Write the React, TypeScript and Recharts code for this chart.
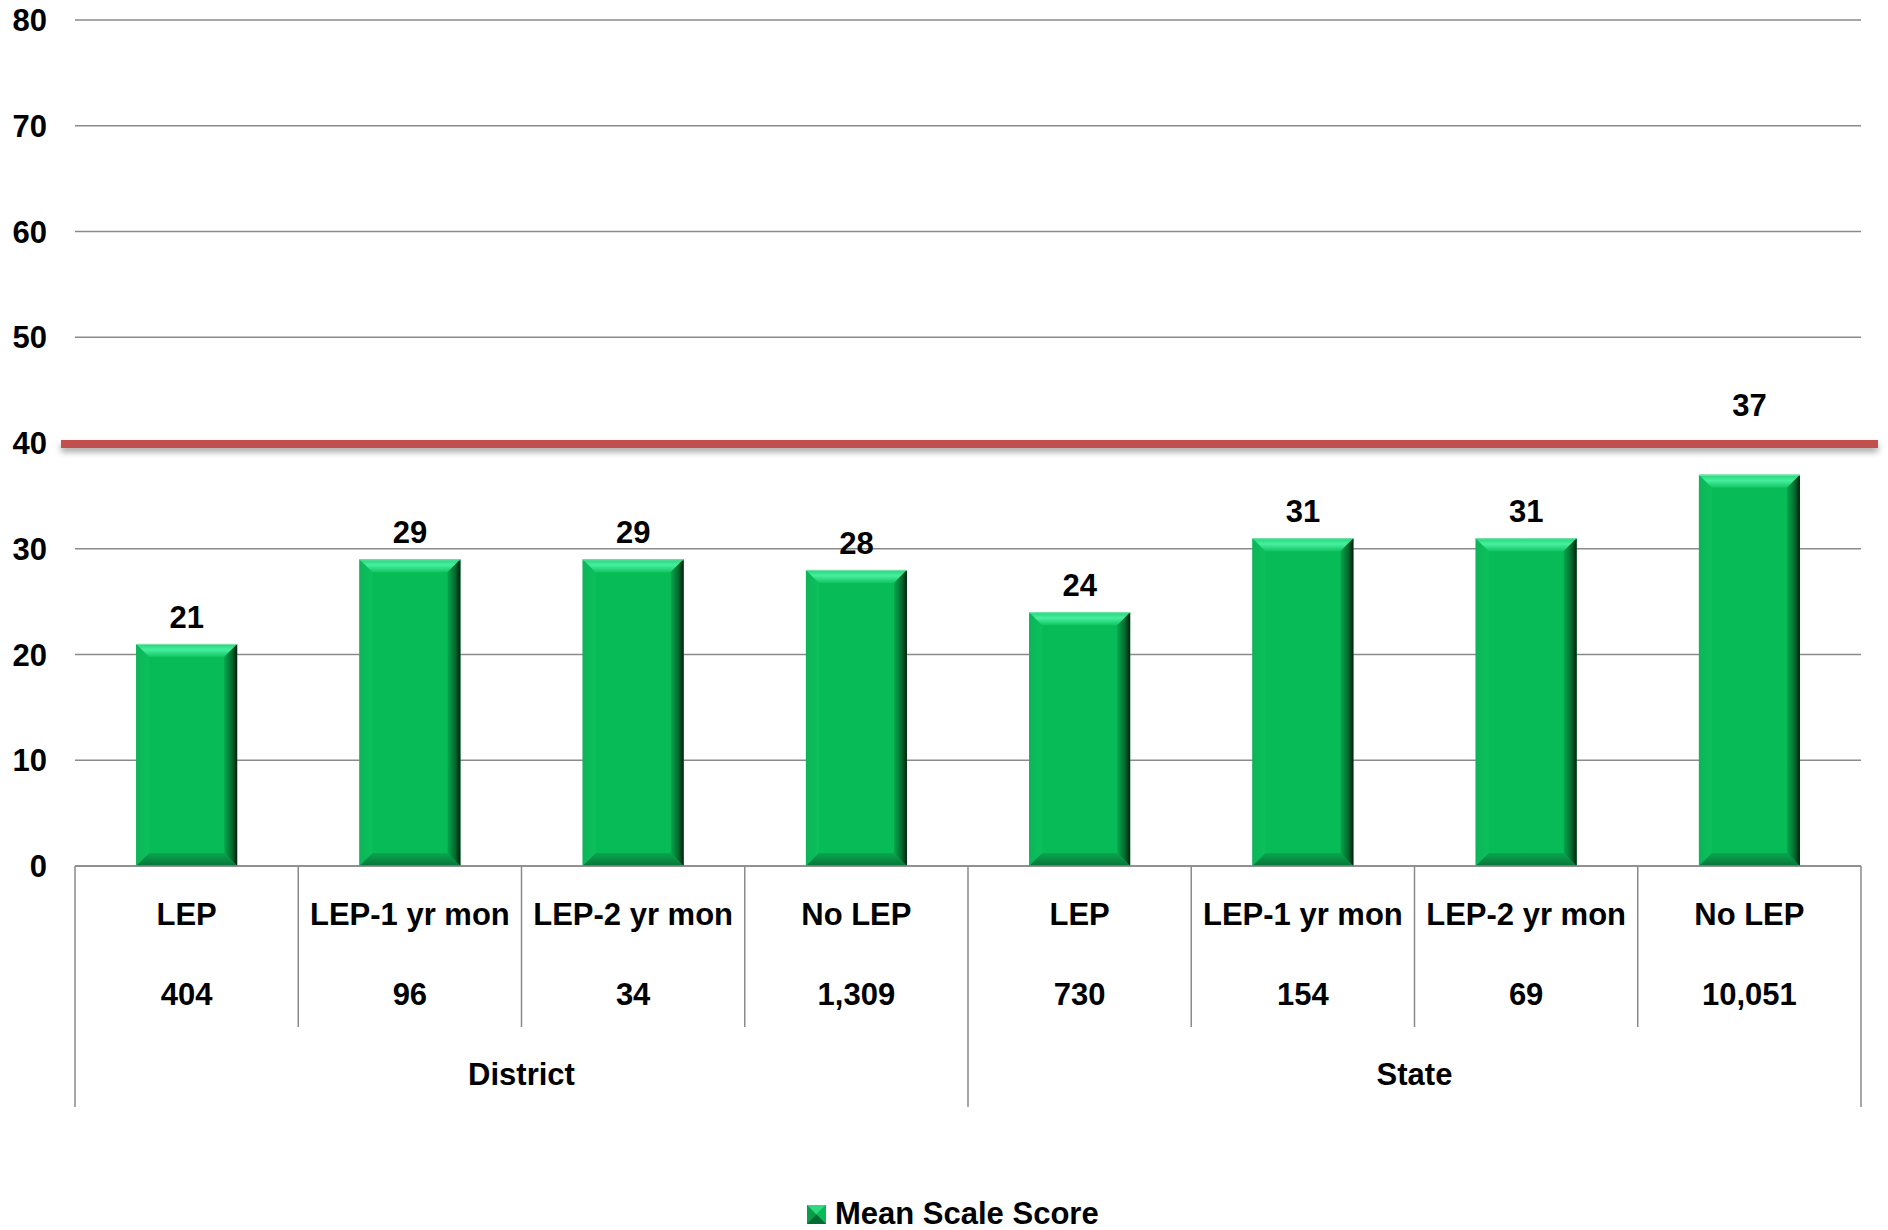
import React from 'react';
import { BarChart, Bar, XAxis, YAxis, CartesianGrid, ReferenceLine, LabelList, Legend } from 'recharts';

const categories = ['LEP', 'LEP-1 yr mon', 'LEP-2 yr mon', 'No LEP', 'LEP', 'LEP-1 yr mon', 'LEP-2 yr mon', 'No LEP'];
const counts = ['404', '96', '34', '1,309', '730', '154', '69', '10,051'];
const groups = ['District', 'District', 'District', 'District', 'State', 'State', 'State', 'State'];
const scores = [21, 29, 29, 28, 24, 31, 31, 37];
const yTicks = [0, 10, 20, 30, 40, 50, 60, 70, 80];
const targetValue = 40;
const seriesName = 'Mean Scale Score';

const data = categories.map((c, i) => ({ key: `k${i}`, category: c, count: counts[i], group: groups[i], score: scores[i] }));

const FONT = '"Liberation Sans", Arial, Helvetica, sans-serif';
const GRID = '#8a8a8a';
const W = 1888;
const H = 1230;
const MARGIN = { top: 20, right: 27, left: 0, bottom: 120 };
const YW = 75;
const FALLBACK_HALF = (W - MARGIN.right - YW) / categories.length / 2;

const BevelBar = (props: any) => {
  const { x, y, width, height } = props;
  if (!width || !height || height <= 0) return null;
  const b = Math.min(13, width / 2, height / 2);
  const r = x + width;
  const btm = y + height;
  return (
    <g>
      <rect x={x} y={y} width={width} height={height} fill="#07bc57" />
      <polygon points={`${x},${y} ${x + b},${y + b} ${x + b},${btm - b} ${x},${btm}`} fill="url(#bevLeft)" />
      <polygon points={`${x},${btm} ${r},${btm} ${r - b},${btm - b} ${x + b},${btm - b}`} fill="url(#bevBottom)" />
      <polygon points={`${x},${y} ${r},${y} ${r - b},${y + b} ${x + b},${y + b}`} fill="url(#bevTop)" />
      <polygon points={`${r},${y} ${r},${btm} ${r - b},${btm - b} ${r - b},${y + b}`} fill="url(#bevRight)" />
      <line x1={x} x2={r} y1={y + 0.5} y2={y + 0.5} stroke="#7fe6b0" strokeWidth={1} />
    </g>
  );
};

const BarLabel = (props: any) => {
  const { x, y, width, height, value } = props;
  const v = Number(value);
  if (!Number.isFinite(v) || !height || v === 0) return null;
  const zeroY = y + height;
  const pxPerUnit = height / v;
  const lineY = zeroY - pxPerUnit * targetValue;
  let baseline = y - 16;
  if (baseline - 22 < lineY + 8 && baseline > lineY - 27) baseline = lineY - 27;
  return (
    <text x={x + width / 2} y={baseline} textAnchor="middle" fontFamily={FONT} fontSize={31} fontWeight="bold" fill="#000">
      {value}
    </text>
  );
};

const XTick = (props: any) => {
  const { x, y, payload } = props;
  const i: number = payload?.index ?? props.index ?? 0;
  const half: number = payload?.offset && payload.offset > 0 ? payload.offset : FALLBACK_HALF;
  const isGroupStart = i === 0 || groups[i] !== groups[i - 1];
  const isLast = i === categories.length - 1;
  let groupLabel: React.ReactNode = null;
  if (isGroupStart) {
    let n = 0;
    while (i + n < groups.length && groups[i + n] === groups[i]) n++;
    const gx = x - half + n * half;
    groupLabel = (
      <text x={gx} y={y + 208} textAnchor="middle" dominantBaseline="central" fontFamily={FONT} fontSize={31} fontWeight="bold" fill="#000">
        {groups[i]}
      </text>
    );
  }
  return (
    <g>
      <line x1={x - half} x2={x - half} y1={y} y2={y + (isGroupStart ? 241 : 161)} stroke={GRID} strokeWidth={1.5} />
      {isLast && <line x1={x + half} x2={x + half} y1={y} y2={y + 241} stroke={GRID} strokeWidth={1.5} />}
      <text x={x} y={y + 48} textAnchor="middle" dominantBaseline="central" fontFamily={FONT} fontSize={31} fontWeight="bold" fill="#000">
        {categories[i]}
      </text>
      <text x={x} y={y + 128} textAnchor="middle" dominantBaseline="central" fontFamily={FONT} fontSize={31} fontWeight="bold" fill="#000">
        {counts[i]}
      </text>
      {groupLabel}
    </g>
  );
};

const TargetLine = (p: any) => {
  const x1 = Number(p.x1), x2 = Number(p.x2), y1 = Number(p.y1), y2 = Number(p.y2);
  if (![x1, x2, y1, y2].every((v) => Number.isFinite(v))) return null;
  return (
    <g>
      <line x1={x1 - 14} x2={x2 + 17} y1={y1 + 1} y2={y2 + 1} stroke="#c0504d" strokeWidth={8} filter="url(#lineShadow)" />
    </g>
  );
};

const LegendContent = (props: any) => {
  const item = props.payload && props.payload[0];
  const name = item ? item.value : seriesName;
  return (
    <div style={{ display: 'flex', alignItems: 'center', fontFamily: FONT, fontSize: 31, fontWeight: 'bold', lineHeight: '22px', height: 22, color: '#000', whiteSpace: 'nowrap' }}>
      <svg width={19} height={19} style={{ marginRight: 9 }}>
        <rect x={0} y={0} width={19} height={19} fill="#0a9c48" />
        <polygon points="0,0 19,0 9.5,9.5" fill="#2fd982" />
        <polygon points="19,0 19,19 9.5,9.5" fill="#07bc57" />
        <polygon points="0,19 19,19 9.5,9.5" fill="#066b32" />
      </svg>
      <span>{name}</span>
    </div>
  );
};

export default function App() {
  return (
    <div style={{ position: 'absolute', left: 0, top: 0, width: W, height: H, background: '#fff', overflow: 'hidden' }}>
      <BarChart width={W} height={H} data={data} margin={MARGIN} barCategoryGap="27.4%">
        <defs>
          <linearGradient id="bevTop" x1="0" y1="0" x2="0" y2="1">
            <stop offset="0" stopColor="#25d47c" />
            <stop offset="0.45" stopColor="#46ef9e" />
            <stop offset="1" stopColor="#12c662" />
          </linearGradient>
          <linearGradient id="bevRight" x1="0" y1="0" x2="1" y2="0">
            <stop offset="0" stopColor="#06a84c" />
            <stop offset="0.6" stopColor="#03692e" />
            <stop offset="1" stopColor="#001f0b" />
          </linearGradient>
          <linearGradient id="bevBottom" x1="0" y1="0" x2="0" y2="1">
            <stop offset="0" stopColor="#0aa64e" />
            <stop offset="1" stopColor="#07743a" />
          </linearGradient>
          <linearGradient id="bevLeft" x1="0" y1="0" x2="1" y2="0">
            <stop offset="0" stopColor="#0db459" />
            <stop offset="1" stopColor="#0bc15b" />
          </linearGradient>
          <filter id="lineShadow" filterUnits="userSpaceOnUse" x="0" y="0" width={W} height={H}>
            <feDropShadow dx="0" dy="4" stdDeviation="3" floodColor="#000" floodOpacity="0.35" />
          </filter>
        </defs>
        <CartesianGrid vertical={false} stroke={GRID} strokeWidth={1.5} />
        <XAxis
          dataKey="key"
          interval={0}
          height={244}
          tickSize={0}
          tickMargin={0}
          axisLine={{ stroke: GRID, strokeWidth: 1.5 }}
          tickLine={false}
          tick={<XTick />}
        />
        <YAxis
          domain={[0, 80]}
          ticks={yTicks}
          width={YW}
          tickSize={0}
          tickMargin={28}
          axisLine={false}
          tickLine={false}
          tick={{ fontFamily: FONT, fontSize: 31, fontWeight: 'bold', fill: '#000' }}
        />
        <Bar dataKey="score" name={seriesName} fill="#07bc57" shape={<BevelBar />} isAnimationActive={false}>
          <LabelList dataKey="score" content={<BarLabel />} />
        </Bar>
        <ReferenceLine y={targetValue} shape={TargetLine} ifOverflow="visible" stroke="#c0504d" strokeWidth={8} />
        <Legend
          verticalAlign="middle"
          align="center"
          layout="horizontal"
          content={<LegendContent />}
          wrapperStyle={{ position: 'absolute', top: 1203, left: 807, width: 'auto', height: 22 }}
        />
      </BarChart>
    </div>
  );
}
